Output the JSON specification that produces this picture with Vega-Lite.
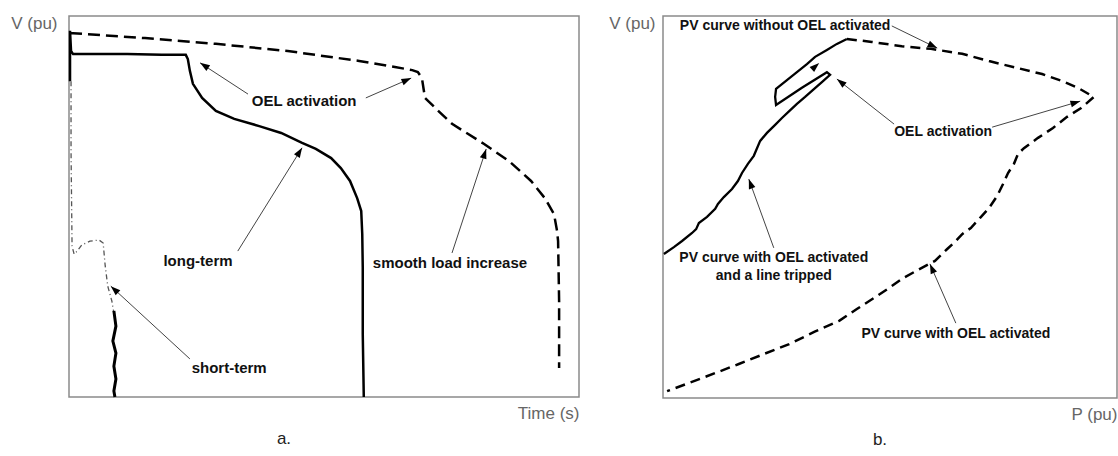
{
  "$schema": "https://vega.github.io/schema/vega-lite/v6.json",
  "background": "white",
  "padding": {"left": 9, "top": 13, "right": 2, "bottom": 5},
  "spacing": 84,
  "bounds": "flush",
  "config": {
    "font": "Liberation Sans",
    "view": {"stroke": "#8a8a8a", "strokeWidth": 1.5},
    "axis": {"labels": false, "ticks": false, "domain": false, "grid": false, "titleFont": "Liberation Sans", "titleFontSize": 17, "titleFontWeight": "normal", "titleColor": "#666666"},
    "axisX": {"titleAnchor": "end", "titlePadding": 8},
    "axisY": {"titleAngle": 0, "titleAlign": "right", "titleBaseline": "middle", "titleY": 7},
    "title": {"font": "Liberation Sans", "fontSize": 17, "fontWeight": "normal", "color": "#222222"}
  },
  "datasets": {
    "leftCurves": [
      {"s": "smooth", "o": 1, "x": 0.2, "y": 95.5},
      {"s": "smooth", "o": 2, "x": 0.8, "y": 95.5},
      {"s": "smooth", "o": 3, "x": 14.9, "y": 94.2},
      {"s": "smooth", "o": 4, "x": 28.8, "y": 92.7},
      {"s": "smooth", "o": 5, "x": 42.9, "y": 90.8},
      {"s": "smooth", "o": 6, "x": 56.9, "y": 88.2},
      {"s": "smooth", "o": 7, "x": 63.9, "y": 86.6},
      {"s": "smooth", "o": 8, "x": 67.3, "y": 85.8},
      {"s": "smooth", "o": 9, "x": 68.4, "y": 85.3},
      {"s": "smooth", "o": 10, "x": 69.2, "y": 83.7},
      {"s": "smooth", "o": 11, "x": 69.8, "y": 78.5},
      {"s": "smooth", "o": 12, "x": 72.4, "y": 75.1},
      {"s": "smooth", "o": 13, "x": 75.1, "y": 71.7},
      {"s": "smooth", "o": 14, "x": 81.4, "y": 66.4},
      {"s": "smooth", "o": 15, "x": 86.3, "y": 61.9},
      {"s": "smooth", "o": 16, "x": 90.6, "y": 56.7},
      {"s": "smooth", "o": 17, "x": 93.3, "y": 52.2},
      {"s": "smooth", "o": 18, "x": 95.1, "y": 48.0},
      {"s": "smooth", "o": 19, "x": 95.7, "y": 43.6},
      {"s": "smooth", "o": 20, "x": 95.9, "y": 40.9},
      {"s": "smooth", "o": 21, "x": 96.1, "y": 25.2},
      {"s": "smooth", "o": 22, "x": 96.1, "y": 7.6},
      {"s": "long", "o": 1, "x": 0.2, "y": 82.9},
      {"s": "long", "o": 2, "x": 0.2, "y": 96.1},
      {"s": "long", "o": 3, "x": 0.4, "y": 90.8},
      {"s": "long", "o": 4, "x": 0.8, "y": 90.0},
      {"s": "long", "o": 5, "x": 11.4, "y": 90.0},
      {"s": "long", "o": 6, "x": 18.2, "y": 89.8},
      {"s": "long", "o": 7, "x": 22.9, "y": 89.8},
      {"s": "long", "o": 8, "x": 23.3, "y": 88.7},
      {"s": "long", "o": 9, "x": 23.7, "y": 85.6},
      {"s": "long", "o": 10, "x": 24.3, "y": 82.2},
      {"s": "long", "o": 11, "x": 26.1, "y": 78.5},
      {"s": "long", "o": 12, "x": 28.8, "y": 75.1},
      {"s": "long", "o": 13, "x": 32.4, "y": 73.0},
      {"s": "long", "o": 14, "x": 37.3, "y": 71.1},
      {"s": "long", "o": 15, "x": 41.6, "y": 69.3},
      {"s": "long", "o": 16, "x": 45.7, "y": 66.7},
      {"s": "long", "o": 17, "x": 48.4, "y": 65.1},
      {"s": "long", "o": 18, "x": 51.4, "y": 62.7},
      {"s": "long", "o": 19, "x": 53.3, "y": 60.1},
      {"s": "long", "o": 20, "x": 55.1, "y": 56.7},
      {"s": "long", "o": 21, "x": 56.5, "y": 52.2},
      {"s": "long", "o": 22, "x": 57.3, "y": 48.8},
      {"s": "long", "o": 23, "x": 57.5, "y": 42.8},
      {"s": "long", "o": 24, "x": 57.6, "y": 33.9},
      {"s": "long", "o": 25, "x": 57.6, "y": 16.5},
      {"s": "long", "o": 26, "x": 57.8, "y": 0},
      {"s": "short", "o": 1, "x": 0.4, "y": 82.9},
      {"s": "short", "o": 2, "x": 0.4, "y": 64.6},
      {"s": "short", "o": 3, "x": 0.6, "y": 39.6},
      {"s": "short", "o": 4, "x": 1.0, "y": 37.5},
      {"s": "short", "o": 5, "x": 1.6, "y": 38.3},
      {"s": "short", "o": 6, "x": 2.5, "y": 39.9},
      {"s": "short", "o": 7, "x": 4.1, "y": 40.9},
      {"s": "short", "o": 8, "x": 5.9, "y": 41.2},
      {"s": "short", "o": 9, "x": 6.7, "y": 40.4},
      {"s": "short", "o": 10, "x": 7.1, "y": 34.4},
      {"s": "short", "o": 11, "x": 7.6, "y": 29.1},
      {"s": "short", "o": 12, "x": 8.4, "y": 25.2},
      {"s": "short", "o": 13, "x": 8.8, "y": 22.0},
      {"s": "collapse", "o": 1, "x": 8.8, "y": 22.6},
      {"s": "collapse", "o": 2, "x": 9.2, "y": 18.6},
      {"s": "collapse", "o": 3, "x": 8.6, "y": 14.7},
      {"s": "collapse", "o": 4, "x": 9.2, "y": 11.5},
      {"s": "collapse", "o": 5, "x": 8.8, "y": 8.1},
      {"s": "collapse", "o": 6, "x": 9.2, "y": 4.7},
      {"s": "collapse", "o": 7, "x": 8.8, "y": 1.6},
      {"s": "collapse", "o": 8, "x": 9.0, "y": 0}
    ],
    "leftArrows": [
      {"x": 35.1, "y": 79.5, "x2": 25.7, "y2": 87.7},
      {"x": 58.2, "y": 78.5, "x2": 67.1, "y2": 83.7},
      {"x": 33.1, "y": 38.3, "x2": 45.7, "y2": 65.4},
      {"x": 75.1, "y": 37.8, "x2": 81.8, "y2": 65.1},
      {"x": 23.7, "y": 10.0, "x2": 8.2, "y2": 29.1}
    ],
    "leftLabels": [
      {"t": "OEL activation", "x": 46.1, "y": 77.7},
      {"t": "long-term", "x": 25.3, "y": 35.7},
      {"t": "smooth load increase", "x": 74.7, "y": 35.2},
      {"t": "short-term", "x": 31.4, "y": 7.6}
    ],
    "rightCurves": [
      {"s": "dashed", "o": 1, "x": 40.5, "y": 94.0},
      {"s": "dashed", "o": 2, "x": 46.0, "y": 93.2},
      {"s": "dashed", "o": 3, "x": 52.6, "y": 92.1},
      {"s": "dashed", "o": 4, "x": 59.0, "y": 91.4},
      {"s": "dashed", "o": 5, "x": 65.9, "y": 90.1},
      {"s": "dashed", "o": 6, "x": 71.8, "y": 88.2},
      {"s": "dashed", "o": 7, "x": 78.0, "y": 86.4},
      {"s": "dashed", "o": 8, "x": 83.5, "y": 84.8},
      {"s": "dashed", "o": 9, "x": 87.9, "y": 83.0},
      {"s": "dashed", "o": 10, "x": 91.4, "y": 81.2},
      {"s": "dashed", "o": 11, "x": 94.9, "y": 78.8},
      {"s": "dashed", "o": 12, "x": 92.1, "y": 75.9},
      {"s": "dashed", "o": 13, "x": 89.0, "y": 73.6},
      {"s": "dashed", "o": 14, "x": 85.9, "y": 70.7},
      {"s": "dashed", "o": 15, "x": 82.6, "y": 68.1},
      {"s": "dashed", "o": 16, "x": 79.5, "y": 65.4},
      {"s": "dashed", "o": 17, "x": 78.2, "y": 63.9},
      {"s": "dashed", "o": 18, "x": 77.3, "y": 61.3},
      {"s": "dashed", "o": 19, "x": 76.0, "y": 58.9},
      {"s": "dashed", "o": 20, "x": 74.9, "y": 56.0},
      {"s": "dashed", "o": 21, "x": 73.6, "y": 52.9},
      {"s": "dashed", "o": 22, "x": 71.8, "y": 49.7},
      {"s": "dashed", "o": 23, "x": 69.8, "y": 47.1},
      {"s": "dashed", "o": 24, "x": 67.8, "y": 44.5},
      {"s": "dashed", "o": 25, "x": 65.9, "y": 42.9},
      {"s": "dashed", "o": 26, "x": 64.5, "y": 41.1},
      {"s": "dashed", "o": 27, "x": 62.6, "y": 39.0},
      {"s": "dashed", "o": 28, "x": 59.9, "y": 35.9},
      {"s": "dashed", "o": 29, "x": 56.6, "y": 33.8},
      {"s": "dashed", "o": 30, "x": 52.9, "y": 31.4},
      {"s": "dashed", "o": 31, "x": 49.8, "y": 28.8},
      {"s": "dashed", "o": 32, "x": 46.5, "y": 26.2},
      {"s": "dashed", "o": 33, "x": 42.7, "y": 23.3},
      {"s": "dashed", "o": 34, "x": 38.8, "y": 20.2},
      {"s": "dashed", "o": 35, "x": 33.3, "y": 17.3},
      {"s": "dashed", "o": 36, "x": 27.8, "y": 14.1},
      {"s": "dashed", "o": 37, "x": 22.2, "y": 11.5},
      {"s": "dashed", "o": 38, "x": 16.7, "y": 8.9},
      {"s": "dashed", "o": 39, "x": 8.6, "y": 5.2},
      {"s": "dashed", "o": 40, "x": 0.9, "y": 1.8},
      {"s": "solid", "o": 1, "x": 0.2, "y": 37.7},
      {"s": "solid", "o": 2, "x": 2.4, "y": 39.5},
      {"s": "solid", "o": 3, "x": 4.2, "y": 41.1},
      {"s": "solid", "o": 4, "x": 6.4, "y": 43.2},
      {"s": "solid", "o": 5, "x": 7.3, "y": 44.2},
      {"s": "solid", "o": 6, "x": 7.9, "y": 45.8},
      {"s": "solid", "o": 7, "x": 9.7, "y": 47.4},
      {"s": "solid", "o": 8, "x": 11.5, "y": 49.5},
      {"s": "solid", "o": 9, "x": 12.1, "y": 50.8},
      {"s": "solid", "o": 10, "x": 13.4, "y": 52.6},
      {"s": "solid", "o": 11, "x": 15.2, "y": 54.7},
      {"s": "solid", "o": 12, "x": 16.5, "y": 56.8},
      {"s": "solid", "o": 13, "x": 17.4, "y": 58.9},
      {"s": "solid", "o": 14, "x": 18.7, "y": 61.3},
      {"s": "solid", "o": 15, "x": 20.0, "y": 63.4},
      {"s": "solid", "o": 16, "x": 21.4, "y": 67.3},
      {"s": "solid", "o": 17, "x": 22.9, "y": 69.4},
      {"s": "solid", "o": 18, "x": 24.7, "y": 71.5},
      {"s": "solid", "o": 19, "x": 26.2, "y": 73.3},
      {"s": "solid", "o": 20, "x": 27.8, "y": 75.1},
      {"s": "solid", "o": 21, "x": 29.5, "y": 77.0},
      {"s": "solid", "o": 22, "x": 31.3, "y": 78.8},
      {"s": "solid", "o": 23, "x": 33.3, "y": 80.9},
      {"s": "solid", "o": 24, "x": 35.0, "y": 82.7},
      {"s": "solid", "o": 25, "x": 36.8, "y": 84.6},
      {"s": "solid", "o": 26, "x": 36.1, "y": 85.3},
      {"s": "solid", "o": 27, "x": 30.6, "y": 81.2},
      {"s": "solid", "o": 28, "x": 24.9, "y": 76.7},
      {"s": "solid", "o": 29, "x": 24.7, "y": 78.8},
      {"s": "solid", "o": 30, "x": 24.9, "y": 80.9},
      {"s": "solid", "o": 31, "x": 27.3, "y": 83.2},
      {"s": "solid", "o": 32, "x": 29.5, "y": 85.3},
      {"s": "solid", "o": 33, "x": 31.7, "y": 87.4},
      {"s": "solid", "o": 34, "x": 33.5, "y": 89.3},
      {"s": "solid", "o": 35, "x": 36.1, "y": 91.1},
      {"s": "solid", "o": 36, "x": 38.3, "y": 92.7},
      {"s": "solid", "o": 37, "x": 40.5, "y": 94.0}
    ],
    "rightArrows": [
      {"x": 50.4, "y": 97.4, "x2": 60.4, "y2": 91.6},
      {"x": 50.9, "y": 71.7, "x2": 38.3, "y2": 83.5},
      {"x": 72.5, "y": 70.9, "x2": 91.9, "y2": 77.7},
      {"x": 24.4, "y": 39.3, "x2": 18.9, "y2": 57.3},
      {"x": 64.5, "y": 19.6, "x2": 58.8, "y2": 35.1}
    ],
    "rightHeads": [
      {"x": 32.4, "y": 85.6, "x2": 34.4, "y2": 87.7}
    ],
    "rightLabels": [
      {"t": "PV curve without OEL activated", "x": 26.9, "y": 97.4},
      {"t": "OEL activation", "x": 61.7, "y": 69.6},
      {"t": "PV curve with OEL activated", "x": 24.4, "y": 36.6},
      {"t": "and a line tripped", "x": 24.4, "y": 31.9},
      {"t": "PV curve with OEL activated", "x": 64.5, "y": 16.8}
    ]
  },
  "hconcat": [
    {
      "width": 510,
      "height": 381,
      "title": {"text": "a.", "orient": "bottom", "anchor": "middle", "dx": -40, "offset": 10},
      "layer": [
        {
          "data": {"name": "leftCurves"},
          "transform": [{"filter": "datum.s === 'smooth'"}],
          "mark": {"type": "line", "color": "black", "strokeWidth": 2.5, "strokeDash": [12, 6]},
          "encoding": {
            "x": {"field": "x", "type": "quantitative", "scale": {"domain": [0, 100], "nice": false}, "axis": {"title": "Time (s)"}},
            "y": {"field": "y", "type": "quantitative", "scale": {"domain": [0, 100], "nice": false}, "axis": {"title": "V (pu)", "titleX": -12}},
            "order": {"field": "o"}
          }
        },
        {
          "data": {"name": "leftCurves"},
          "transform": [{"filter": "datum.s === 'long'"}],
          "mark": {"type": "line", "color": "black", "strokeWidth": 2.5},
          "encoding": {
            "x": {"field": "x", "type": "quantitative", "scale": {"domain": [0, 100], "nice": false}},
            "y": {"field": "y", "type": "quantitative", "scale": {"domain": [0, 100], "nice": false}},
            "order": {"field": "o"}
          }
        },
        {
          "data": {"name": "leftCurves"},
          "transform": [{"filter": "datum.s === 'short'"}],
          "mark": {"type": "line", "color": "#555555", "strokeWidth": 1.3, "strokeDash": [5, 3, 1, 3]},
          "encoding": {
            "x": {"field": "x", "type": "quantitative", "scale": {"domain": [0, 100], "nice": false}},
            "y": {"field": "y", "type": "quantitative", "scale": {"domain": [0, 100], "nice": false}},
            "order": {"field": "o"}
          }
        },
        {
          "data": {"name": "leftCurves"},
          "transform": [{"filter": "datum.s === 'collapse'"}],
          "mark": {"type": "line", "color": "black", "strokeWidth": 3},
          "encoding": {
            "x": {"field": "x", "type": "quantitative", "scale": {"domain": [0, 100], "nice": false}},
            "y": {"field": "y", "type": "quantitative", "scale": {"domain": [0, 100], "nice": false}},
            "order": {"field": "o"}
          }
        },
        {
          "data": {"name": "leftArrows"},
          "mark": {"type": "rule", "color": "#444444", "strokeWidth": 1},
          "encoding": {
            "x": {"field": "x", "type": "quantitative", "scale": {"domain": [0, 100], "nice": false}},
            "y": {"field": "y", "type": "quantitative", "scale": {"domain": [0, 100], "nice": false}},
            "x2": {"field": "x2"},
            "y2": {"field": "y2"}
          }
        },
        {
          "data": {"name": "leftArrows"},
          "transform": [{"calculate": "atan2((datum.x2 - datum.x) * 5.1, (datum.y2 - datum.y) * 3.81) * 180 / PI", "as": "ang"}],
          "mark": {"type": "point", "shape": "M0,0L-0.35,1L0.35,1Z", "filled": true, "color": "black", "opacity": 1, "size": 380, "strokeWidth": 0},
          "encoding": {
            "x": {"field": "x2", "type": "quantitative", "scale": {"domain": [0, 100], "nice": false}},
            "y": {"field": "y2", "type": "quantitative", "scale": {"domain": [0, 100], "nice": false}},
            "angle": {"field": "ang", "type": "quantitative", "scale": null}
          }
        },
        {
          "data": {"name": "leftLabels"},
          "mark": {"type": "text", "font": "Liberation Sans", "fontSize": 15, "fontWeight": "bold", "color": "#111111", "align": "center", "baseline": "middle"},
          "encoding": {
            "x": {"field": "x", "type": "quantitative", "scale": {"domain": [0, 100], "nice": false}},
            "y": {"field": "y", "type": "quantitative", "scale": {"domain": [0, 100], "nice": false}},
            "text": {"field": "t"}
          }
        }
      ]
    },
    {
      "width": 454,
      "height": 382,
      "title": {"text": "b.", "orient": "bottom", "anchor": "middle", "dx": -10, "offset": 10},
      "layer": [
        {
          "data": {"name": "rightCurves"},
          "transform": [{"filter": "datum.s === 'dashed'"}],
          "mark": {"type": "line", "color": "black", "strokeWidth": 2.5, "strokeDash": [10, 6]},
          "encoding": {
            "x": {"field": "x", "type": "quantitative", "scale": {"domain": [0, 100], "nice": false}, "axis": {"title": "P (pu)"}},
            "y": {"field": "y", "type": "quantitative", "scale": {"domain": [0, 100], "nice": false}, "axis": {"title": "V (pu)", "titleX": -8}},
            "order": {"field": "o"}
          }
        },
        {
          "data": {"name": "rightCurves"},
          "transform": [{"filter": "datum.s === 'solid'"}],
          "mark": {"type": "line", "color": "black", "strokeWidth": 2.3},
          "encoding": {
            "x": {"field": "x", "type": "quantitative", "scale": {"domain": [0, 100], "nice": false}},
            "y": {"field": "y", "type": "quantitative", "scale": {"domain": [0, 100], "nice": false}},
            "order": {"field": "o"}
          }
        },
        {
          "data": {"name": "rightArrows"},
          "mark": {"type": "rule", "color": "#444444", "strokeWidth": 1},
          "encoding": {
            "x": {"field": "x", "type": "quantitative", "scale": {"domain": [0, 100], "nice": false}},
            "y": {"field": "y", "type": "quantitative", "scale": {"domain": [0, 100], "nice": false}},
            "x2": {"field": "x2"},
            "y2": {"field": "y2"}
          }
        },
        {
          "data": {"name": "rightArrows"},
          "transform": [{"calculate": "atan2((datum.x2 - datum.x) * 4.54, (datum.y2 - datum.y) * 3.82) * 180 / PI", "as": "ang"}],
          "mark": {"type": "point", "shape": "M0,0L-0.35,1L0.35,1Z", "filled": true, "color": "black", "opacity": 1, "size": 380, "strokeWidth": 0},
          "encoding": {
            "x": {"field": "x2", "type": "quantitative", "scale": {"domain": [0, 100], "nice": false}},
            "y": {"field": "y2", "type": "quantitative", "scale": {"domain": [0, 100], "nice": false}},
            "angle": {"field": "ang", "type": "quantitative", "scale": null}
          }
        },
        {
          "data": {"name": "rightHeads"},
          "transform": [{"calculate": "atan2((datum.x2 - datum.x) * 4.54, (datum.y2 - datum.y) * 3.82) * 180 / PI", "as": "ang"}],
          "mark": {"type": "point", "shape": "M0,0L-0.35,1L0.35,1Z", "filled": true, "color": "black", "opacity": 1, "size": 380, "strokeWidth": 0},
          "encoding": {
            "x": {"field": "x2", "type": "quantitative", "scale": {"domain": [0, 100], "nice": false}},
            "y": {"field": "y2", "type": "quantitative", "scale": {"domain": [0, 100], "nice": false}},
            "angle": {"field": "ang", "type": "quantitative", "scale": null}
          }
        },
        {
          "data": {"name": "rightLabels"},
          "mark": {"type": "text", "font": "Liberation Sans", "fontSize": 14, "fontWeight": "bold", "color": "#111111", "align": "center", "baseline": "middle"},
          "encoding": {
            "x": {"field": "x", "type": "quantitative", "scale": {"domain": [0, 100], "nice": false}},
            "y": {"field": "y", "type": "quantitative", "scale": {"domain": [0, 100], "nice": false}},
            "text": {"field": "t"}
          }
        }
      ]
    }
  ]
}
